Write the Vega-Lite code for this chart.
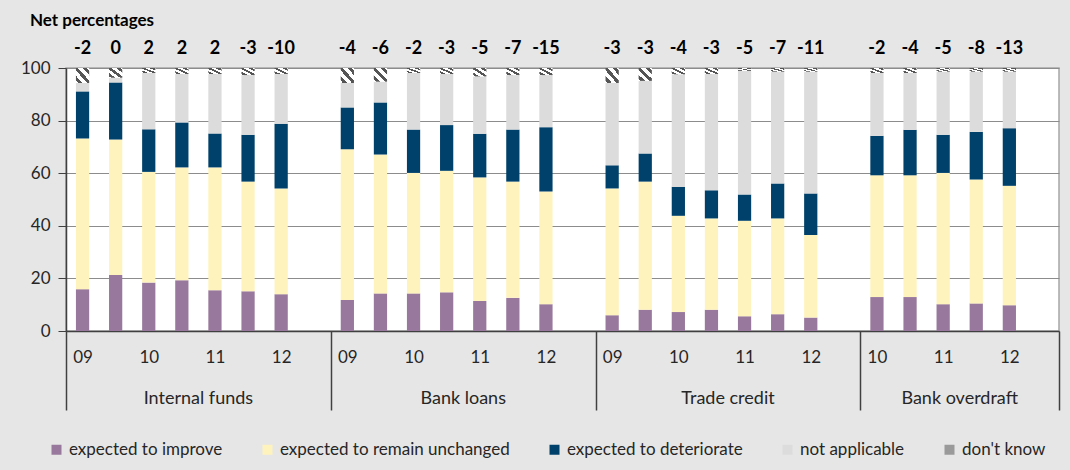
{
  "$schema": "https://vega.github.io/schema/vega-lite/v6.json",
  "autosize": "none",
  "width": 993,
  "height": 263,
  "padding": {"left": 66, "top": 68, "right": 11, "bottom": 139},
  "background": "#e6e6e6",
  "config": {
    "font": "Lato",
    "view": {"fill": "white", "stroke": "#a6a6a6", "strokeWidth": 1.5}
  },
  "title": {
    "text": "Net percentages",
    "anchor": "start",
    "frame": "group",
    "dx": -36,
    "offset": -3,
    "baseline": "alphabetic",
    "font": "Lato",
    "fontSize": 17,
    "fontWeight": "bold",
    "color": "#000000"
  },
  "datasets": {
    "survey": [
      {"instrument": "Internal funds", "slot": "Internal funds 2009H1", "improve": 15.9, "unchanged": 57.3, "deteriorate": 17.9, "na": 3.2, "dk": 5.7, "net": "-2"},
      {"instrument": "Internal funds", "slot": "Internal funds 2009H2", "improve": 21.3, "unchanged": 51.5, "deteriorate": 21.7, "na": 1.8, "dk": 3.7, "net": "0"},
      {"instrument": "Internal funds", "slot": "Internal funds 2010H1", "improve": 18.4, "unchanged": 42.1, "deteriorate": 16.2, "na": 21.4, "dk": 1.9, "net": "2"},
      {"instrument": "Internal funds", "slot": "Internal funds 2010H2", "improve": 19.3, "unchanged": 42.9, "deteriorate": 17.1, "na": 18.4, "dk": 2.3, "net": "2"},
      {"instrument": "Internal funds", "slot": "Internal funds 2011H1", "improve": 15.5, "unchanged": 46.7, "deteriorate": 12.9, "na": 22.6, "dk": 2.3, "net": "2"},
      {"instrument": "Internal funds", "slot": "Internal funds 2011H2", "improve": 15.1, "unchanged": 41.7, "deteriorate": 17.8, "na": 22.7, "dk": 2.7, "net": "-3"},
      {"instrument": "Internal funds", "slot": "Internal funds 2012H1", "improve": 14.0, "unchanged": 40.2, "deteriorate": 24.6, "na": 18.9, "dk": 2.3, "net": "-10"},
      {"instrument": "Bank loans", "slot": "Bank loans 2009H1", "improve": 11.8, "unchanged": 57.3, "deteriorate": 15.9, "na": 9.3, "dk": 5.7, "net": "-4"},
      {"instrument": "Bank loans", "slot": "Bank loans 2009H2", "improve": 14.3, "unchanged": 52.8, "deteriorate": 19.8, "na": 7.9, "dk": 5.2, "net": "-6"},
      {"instrument": "Bank loans", "slot": "Bank loans 2010H1", "improve": 14.3, "unchanged": 45.8, "deteriorate": 16.5, "na": 21.5, "dk": 1.9, "net": "-2"},
      {"instrument": "Bank loans", "slot": "Bank loans 2010H2", "improve": 14.7, "unchanged": 46.2, "deteriorate": 17.4, "na": 19.4, "dk": 2.3, "net": "-3"},
      {"instrument": "Bank loans", "slot": "Bank loans 2011H1", "improve": 11.4, "unchanged": 47.0, "deteriorate": 16.6, "na": 21.8, "dk": 3.2, "net": "-5"},
      {"instrument": "Bank loans", "slot": "Bank loans 2011H2", "improve": 12.6, "unchanged": 44.2, "deteriorate": 19.8, "na": 20.7, "dk": 2.7, "net": "-7"},
      {"instrument": "Bank loans", "slot": "Bank loans 2012H1", "improve": 10.2, "unchanged": 42.8, "deteriorate": 24.5, "na": 19.8, "dk": 2.7, "net": "-15"},
      {"instrument": "Trade credit", "slot": "Trade credit 2009H1", "improve": 6.0, "unchanged": 48.2, "deteriorate": 8.8, "na": 31.3, "dk": 5.7, "net": "-3"},
      {"instrument": "Trade credit", "slot": "Trade credit 2009H2", "improve": 8.1, "unchanged": 48.7, "deteriorate": 10.7, "na": 27.6, "dk": 4.9, "net": "-3"},
      {"instrument": "Trade credit", "slot": "Trade credit 2010H1", "improve": 7.2, "unchanged": 36.6, "deteriorate": 11.0, "na": 42.8, "dk": 2.4, "net": "-4"},
      {"instrument": "Trade credit", "slot": "Trade credit 2010H2", "improve": 8.1, "unchanged": 34.7, "deteriorate": 10.7, "na": 44.2, "dk": 2.3, "net": "-3"},
      {"instrument": "Trade credit", "slot": "Trade credit 2011H1", "improve": 5.6, "unchanged": 36.3, "deteriorate": 10.0, "na": 47.0, "dk": 1.1, "net": "-5"},
      {"instrument": "Trade credit", "slot": "Trade credit 2011H2", "improve": 6.4, "unchanged": 36.4, "deteriorate": 13.3, "na": 42.5, "dk": 1.4, "net": "-7"},
      {"instrument": "Trade credit", "slot": "Trade credit 2012H1", "improve": 5.1, "unchanged": 31.4, "deteriorate": 15.8, "na": 46.3, "dk": 1.4, "net": "-11"},
      {"instrument": "Bank overdraft", "slot": "Bank overdraft 2010H1", "improve": 12.9, "unchanged": 46.3, "deteriorate": 15.0, "na": 23.9, "dk": 1.9, "net": "-2"},
      {"instrument": "Bank overdraft", "slot": "Bank overdraft 2010H2", "improve": 12.9, "unchanged": 46.3, "deteriorate": 17.3, "na": 21.6, "dk": 1.9, "net": "-4"},
      {"instrument": "Bank overdraft", "slot": "Bank overdraft 2011H1", "improve": 10.2, "unchanged": 49.9, "deteriorate": 14.5, "na": 24.0, "dk": 1.4, "net": "-5"},
      {"instrument": "Bank overdraft", "slot": "Bank overdraft 2011H2", "improve": 10.5, "unchanged": 47.1, "deteriorate": 18.1, "na": 22.9, "dk": 1.4, "net": "-8"},
      {"instrument": "Bank overdraft", "slot": "Bank overdraft 2012H1", "improve": 9.8, "unchanged": 45.4, "deteriorate": 21.9, "na": 21.5, "dk": 1.4, "net": "-13"}
    ],
    "cats": [
      {"key": "improve", "label": "expected to improve", "rank": 1},
      {"key": "unchanged", "label": "expected to remain unchanged", "rank": 2},
      {"key": "deteriorate", "label": "expected to deteriorate", "rank": 3},
      {"key": "na", "label": "not applicable", "rank": 4},
      {"key": "dk", "label": "don't know", "rank": 5}
    ],
    "groups": [
      {"slot": "Internal funds 2011H1", "name": "Internal funds"},
      {"slot": "Bank loans 2011H1", "name": "Bank loans"},
      {"slot": "Trade credit 2011H1", "name": "Trade credit"},
      {"slot": "Bank overdraft 2011H2", "name": "Bank overdraft"}
    ]
  },
  "layer": [
    {
      "data": {"name": "survey"},
      "transform": [
        {"fold": ["improve", "unchanged", "deteriorate", "na", "dk"], "as": ["key", "share"]},
        {"lookup": "key", "from": {"data": {"name": "cats"}, "key": "key", "fields": ["label", "rank"]}}
      ],
      "mark": {"type": "bar", "width": {"band": 0.4}},
      "encoding": {
        "x": {
          "field": "slot",
          "type": "nominal",
          "sort": null,
          "scale": {
            "domain": [
              "Internal funds 2009H1", "Internal funds 2009H2", "Internal funds 2010H1", "Internal funds 2010H2", "Internal funds 2011H1", "Internal funds 2011H2", "Internal funds 2012H1", "Internal funds gap",
              "Bank loans 2009H1", "Bank loans 2009H2", "Bank loans 2010H1", "Bank loans 2010H2", "Bank loans 2011H1", "Bank loans 2011H2", "Bank loans 2012H1", "Bank loans gap",
              "Trade credit 2009H1", "Trade credit 2009H2", "Trade credit 2010H1", "Trade credit 2010H2", "Trade credit 2011H1", "Trade credit 2011H2", "Trade credit 2012H1", "Trade credit gap",
              "Bank overdraft 2010H1", "Bank overdraft 2010H2", "Bank overdraft 2011H1", "Bank overdraft 2011H2", "Bank overdraft 2012H1", "Bank overdraft gap"
            ],
            "paddingInner": 0,
            "paddingOuter": 0
          },
          "axis": {
            "title": null,
            "labelAngle": 0,
            "labelExpr": "isString(datum.value) && indexof(datum.value, 'H1') > 0 ? slice(datum.value, -4, -2) : ''",
            "labelFont": "Lato",
            "labelFontSize": 17,
            "labelColor": "#262626",
            "labelPadding": -61,
            "tickBand": "extent",
            "tickSize": 79,
            "tickWidth": 1.5,
            "tickColor": {"condition": {"test": "!isString(datum.value) || indexof(datum.value, 'gap') >= 0", "value": "#404040"}, "value": "transparent"},
            "domainColor": "#404040",
            "domainWidth": 1.5,
            "grid": false
          }
        },
        "y": {
          "field": "share",
          "type": "quantitative",
          "stack": "zero",
          "scale": {"domain": [0, 100], "nice": false},
          "axis": {
            "title": null,
            "values": [0, 20, 40, 60, 80, 100],
            "grid": true,
            "gridColor": "#8c8c8c",
            "gridWidth": 1,
            "domainColor": "#404040",
            "domainWidth": 1.5,
            "tickColor": "#404040",
            "tickSize": 8,
            "labelPadding": 8,
            "labelFont": "Lato",
            "labelFontSize": 17,
            "labelColor": "#262626"
          }
        },
        "color": {
          "condition": {
            "test": "datum.key === 'dk'",
            "value": {"gradient": "linear", "x1": 0, "y1": 1, "x2": 1, "y2": 0, "stops": [
              {"offset": 0, "color": "#ffffff"}, {"offset": 0.08, "color": "#ffffff"},
              {"offset": 0.08, "color": "#555555"}, {"offset": 0.24, "color": "#555555"},
              {"offset": 0.24, "color": "#ffffff"}, {"offset": 0.42, "color": "#ffffff"},
              {"offset": 0.42, "color": "#555555"}, {"offset": 0.58, "color": "#555555"},
              {"offset": 0.58, "color": "#ffffff"}, {"offset": 0.76, "color": "#ffffff"},
              {"offset": 0.76, "color": "#555555"}, {"offset": 0.92, "color": "#555555"},
              {"offset": 0.92, "color": "#ffffff"}, {"offset": 1, "color": "#ffffff"}
            ]}
          },
          "field": "label",
          "type": "nominal",
          "scale": {
            "domain": ["expected to improve", "expected to remain unchanged", "expected to deteriorate", "not applicable", "don't know"],
            "range": ["#98789c", "#fff3bd", "#00416b", "#dcdcdc", "#9a9a9a"]
          },
          "legend": {
            "title": null,
            "orient": "none",
            "direction": "horizontal",
            "columns": 5,
            "legendX": -18,
            "legendY": 373,
            "padding": 0,
            "symbolType": "square",
            "symbolSize": 100,
            "symbolStrokeColor": "#a0a0a0",
            "symbolStrokeWidth": 0.5,
            "labelFont": "Lato",
            "labelFontSize": 17,
            "labelColor": "#262626",
            "labelOffset": 4,
            "columnPadding": 36,
            "labelLimit": 400,
            "encode": {
              "symbols": {
                "update": {
                  "fill": {"value": {"expr": "datum.value === \"don't know\" ? {gradient: 'linear', x1: 0, y1: 1, x2: 1, y2: 0, stops: [{offset: 0, color: '#ffffff'}, {offset: 0.15, color: '#ffffff'}, {offset: 0.15, color: '#555555'}, {offset: 0.35, color: '#555555'}, {offset: 0.35, color: '#ffffff'}, {offset: 0.65, color: '#ffffff'}, {offset: 0.65, color: '#555555'}, {offset: 0.85, color: '#555555'}, {offset: 0.85, color: '#ffffff'}, {offset: 1, color: '#ffffff'}]} : scale('color', datum.value)"}}
                }
              }
            }
          }
        },
        "order": {"field": "rank", "type": "quantitative", "sort": "ascending"}
      }
    },
    {
      "data": {"name": "survey"},
      "mark": {"type": "text", "dy": -14, "baseline": "alphabetic", "font": "Lato", "fontSize": 18, "fontWeight": "bold", "color": "#000000"},
      "encoding": {
        "x": {"field": "slot", "type": "nominal", "sort": null},
        "y": {"datum": 100, "type": "quantitative"},
        "text": {"field": "net", "type": "nominal"}
      }
    },
    {
      "data": {"name": "groups"},
      "mark": {"type": "text", "dy": 73, "baseline": "alphabetic", "font": "Lato", "fontSize": 18, "color": "#262626"},
      "encoding": {
        "x": {"field": "slot", "type": "nominal", "sort": null, "bandPosition": 0},
        "y": {"datum": 0, "type": "quantitative"},
        "text": {"field": "name", "type": "nominal"}
      }
    }
  ]
}
